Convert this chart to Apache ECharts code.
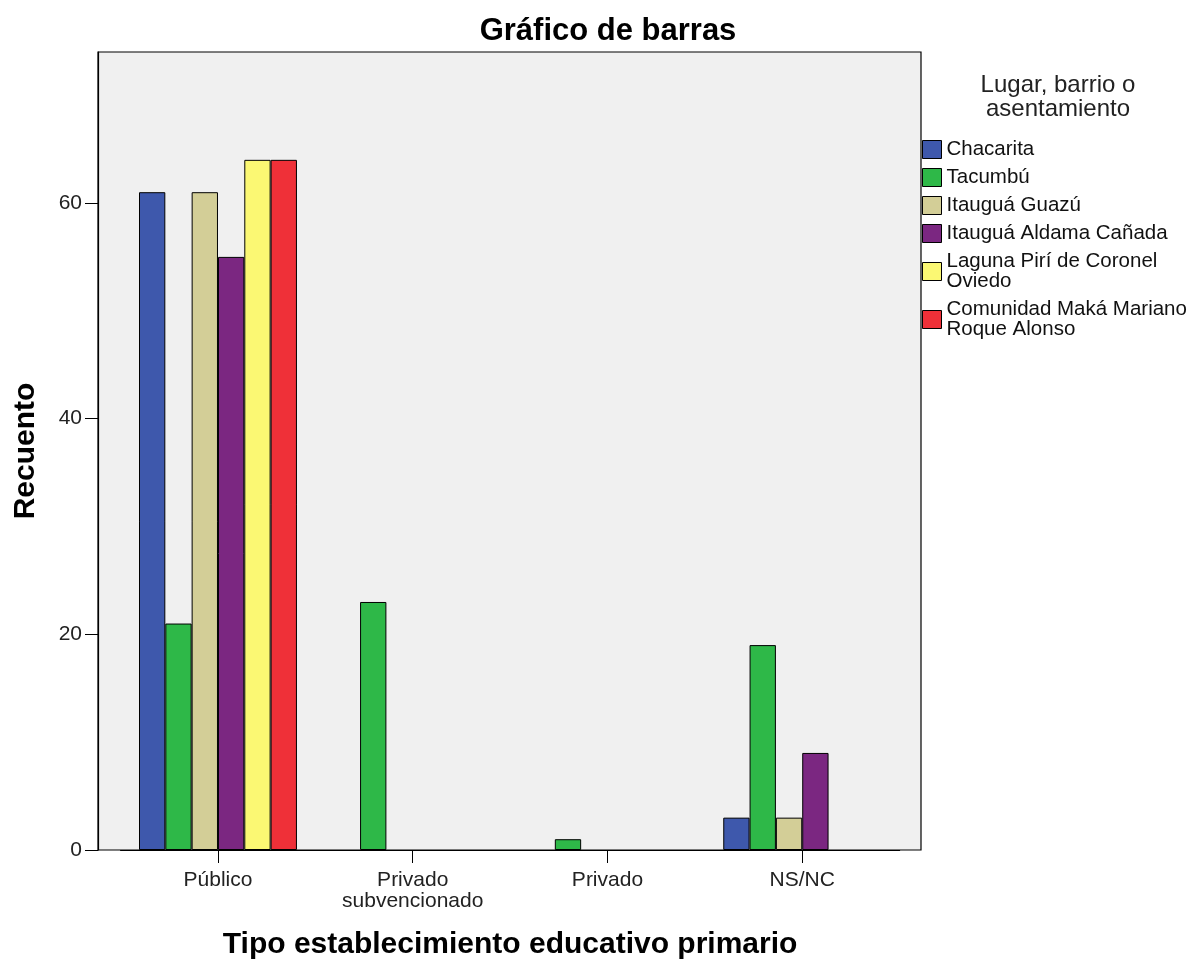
<!DOCTYPE html>
<html><head><meta charset="utf-8">
<script src="https://cdn.jsdelivr.net/npm/echarts@6/dist/echarts.min.js"></script>
<style>html,body{margin:0;padding:0;background:#fff}#c{width:1193px;height:963px}</style>
</head><body><div id="c"></div>
<script>
const categories = ['Público', 'Privado\nsubvencionado', 'Privado', 'NS/NC'];
const seriesNames = ['Chacarita', 'Tacumbú', 'Itauguá Guazú', 'Itauguá Aldama Cañada', 'Laguna Pirí de Coronel\nOviedo', 'Comunidad Maká Mariano\nRoque Alonso'];
const chacarita = [61, null, null, 3];
const tacumbu = [21, 23, 1, 19];
const guazu = [61, null, null, 3];
const aldama = [55, null, null, 9];
const laguna = [64, null, null, null];
const maka = [64, null, null, null];
const values = [chacarita, tacumbu, guazu, aldama, laguna, maka];
const colors = ['#3e58ac', '#2eb848', '#d3ce97', '#7b2781', '#fbf873', '#ef3038'];
const yTicks = [0, 20, 40, 60];

const FONT = 'Liberation Sans, Arial, sans-serif';
const chart = echarts.init(document.getElementById('c'), null, {renderer: 'canvas'});
chart.setOption({
  animation: false,
  backgroundColor: '#fff',
  title: [{
    text: 'Gráfico de barras', left: 608, top: 16, textAlign: 'center', padding: 0,
    textStyle: {fontFamily: FONT, fontWeight: 'bold', fontSize: 31, color: '#000'}
  }, {
    text: 'Lugar, barrio o\nasentamiento', left: 1058, top: 73, textAlign: 'center', padding: 0,
    textStyle: {fontFamily: FONT, fontWeight: 'normal', fontSize: 24, lineHeight: 24, color: '#222'}
  }],
  legend: {
    orient: 'vertical', left: 922, top: 139, padding: 0, itemWidth: 19, itemHeight: 18, itemGap: 7,
    icon: 'rect', selectedMode: false,
    itemStyle: {borderColor: '#000', borderWidth: 1},
    textStyle: {fontFamily: FONT, fontSize: 20.5, lineHeight: 20, color: '#111', padding: 0},
    data: seriesNames
  },
  grid: [
    {left: 98, top: 52, width: 823, height: 798, show: true, backgroundColor: '#f0f0f0', borderColor: '#000', borderWidth: 1.2, outerBoundsMode: 'none', containLabel: false},
    {left: 120.6, top: 52, width: 779, height: 798, outerBoundsMode: 'none', containLabel: false}
  ],
  xAxis: [
    {type: 'value', gridIndex: 0, show: false, min: 0, max: 1},
    {type: 'category', gridIndex: 1, data: categories, boundaryGap: true,
     axisLine: {show: true, lineStyle: {color: '#000', width: 1.2}},
     axisTick: {show: true, alignWithLabel: true, length: 13, lineStyle: {color: '#000'}},
     axisLabel: {fontFamily: FONT, fontSize: 21, lineHeight: 21, color: '#222', margin: 20},
     name: 'Tipo establecimiento educativo primario', nameLocation: 'middle', nameGap: 80,
     nameTextStyle: {fontFamily: FONT, fontWeight: 'bold', fontSize: 30, color: '#000'}
    }
  ],
  yAxis: [
    {type: 'value', gridIndex: 0, min: 0, max: 74, interval: 20,
     axisLine: {show: true, lineStyle: {color: '#000', width: 1.2}},
     axisTick: {show: true, length: 13, customValues: yTicks, lineStyle: {color: '#000'}},
     axisLabel: {fontFamily: FONT, fontSize: 21, color: '#222', margin: 16, customValues: yTicks},
     splitLine: {show: false},
     name: 'Recuento', nameLocation: 'middle', nameGap: 57, nameRotate: 90,
     nameTextStyle: {fontFamily: FONT, fontWeight: 'bold', fontSize: 30, color: '#000'}
    },
    {type: 'value', gridIndex: 1, min: 0, max: 74, show: false}
  ],
  series: values.map((d, i) => ({
    name: seriesNames[i], type: 'bar', xAxisIndex: 1, yAxisIndex: 1, data: d,
    barGap: '0%', barCategoryGap: '18.9%',
    itemStyle: {color: colors[i], borderColor: '#000', borderWidth: 1}
  }))
});
</script></body></html>
